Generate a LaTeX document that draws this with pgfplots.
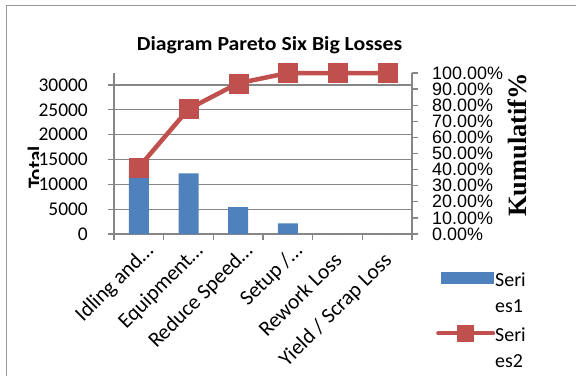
\documentclass[border=0pt]{standalone}
\usepackage{pgfplots}
\pgfplotsset{compat=1.18}
\usepackage{fontspec}
\setmainfont{Carlito}
\newfontfamily\titlefont{Carlito}[FakeStretch=1.09]
\newfontfamily\libsans{Liberation Sans}
\newfontfamily\libserif{Liberation Serif}
\definecolor{barblue}{HTML}{4F81BD}
\definecolor{linered}{HTML}{C0504D}
\definecolor{axgray}{HTML}{868686}
\begin{document}
\begin{tikzpicture}[x=1bp,y=1bp]
\useasboundingbox (-114,-142) rectangle (462,234);
\draw[axgray!85, line width=1.6bp] (-107.5,-142) -- (-107.5,228.5) -- (462,228.5);
\begin{scope}
\clip (-120,30) rectangle (-75,110);
\node[rotate=90, inner sep=0pt, font=\bfseries\fontsize{21}{25}\selectfont] at (-79,66.5) {Total};
\end{scope}
\begin{axis}[
  at={(0,0)}, anchor=south west,
  scale only axis, width=298bp, height=161bp,
  xmin=-0.5, xmax=5.5, ymin=0, ymax=32400,
  axis x line*=bottom, axis y line*=left,
  axis line style={-, axgray, line width=1.3bp},
  ytick={0,5000,10000,15000,20000,25000,30000},
  ymajorgrids, grid style={axgray, line width=1.3bp},
  tick align=outside, major tick length=6bp,
  tick style={axgray, line width=1.3bp},
  xtick={-0.5,0.5,1.5,2.5,3.5,4.5,5.5}, xticklabels={},
  extra x ticks={0,1,2,3,4,5},
  extra x tick labels={Idling and…,Equipment…,Reduce Speed…,Setup /…,Rework Loss\kern14bp,Yield / Scrap Loss\kern14bp},
  extra x tick style={major tick length=0pt, grid=none,
    xticklabel style={xshift=5bp, yshift=-7bp, rotate=45, anchor=north east, inner sep=0pt,
      font=\fontsize{21.5}{24}\selectfont}},
  scaled y ticks=false,
  yticklabel style={font=\fontsize{19.5}{20}\selectfont, anchor=east, inner sep=0pt, xshift=-20bp,
    /pgf/number format/1000 sep={}, /pgf/number format/assume math mode=true},
  title={Diagram Pareto Six Big Losses},
  title style={at={(rel axis cs:0.522,1.134)}, anchor=center, inner sep=0pt,
    font=\titlefont\bfseries\fontsize{20}{24}\selectfont},
]
\addplot[ybar, fill=barblue, draw=none, bar width=20bp] coordinates {(0,14000) (1,12220) (2,5400) (3,2150) (4,0) (5,0)};
\end{axis}
\begin{axis}[
  at={(0,0)}, anchor=south west,
  scale only axis, width=298bp, height=161bp,
  xmin=-0.5, xmax=5.5, ymin=0, ymax=1,
  axis x line=none, axis y line*=right,
  axis line style={-, axgray, line width=1.3bp},
  ytick={0,0.1,0.2,0.3,0.4,0.5,0.6,0.7,0.8,0.9,1},
  yticklabels={0.00\%,10.00\%,20.00\%,30.00\%,40.00\%,50.00\%,60.00\%,70.00\%,80.00\%,90.00\%,100.00\%},
  tick align=outside, major tick length=6bp,
  tick style={axgray, line width=1.3bp},
  yticklabel style={font=\libsans\fontsize{18}{18}\selectfont, anchor=west, inner sep=0pt, xshift=14bp},
  ylabel={Kumulatif\%},
  every axis y label/.style={at={(rel axis cs:1.352,0.553)}, rotate=90, anchor=center, inner sep=0pt,
    font=\libserif\bfseries\fontsize{26.5}{30}\selectfont},
  clip=false,
  legend style={at={(rel axis cs:1.0805,-0.21)}, anchor=north west, draw=none, fill=none,
    inner sep=0pt, row sep=36bp, font=\fontsize{20}{26}\selectfont,
    nodes={inner sep=0pt}},
  legend cell align=left,
]
\addlegendimage{legend image code/.code={\fill[barblue] (3bp,-5.5bp) rectangle (55bp,5.5bp);}}
\addlegendentry{\begin{tabular}[t]{@{}l@{}}Seri\\es1\end{tabular}}
\addplot[linered, line width=4.5bp, mark=square*, mark size=9.5bp, mark options={fill=linered, draw=linered, line width=0.1bp},
  legend image code/.code={\draw[linered, line width=4bp, line cap=round] (0bp,0bp) -- (55bp,0bp);
    \fill[linered] (21.5bp,-6bp) rectangle (33.5bp,6bp);}]
  coordinates {(0,0.4146) (1,0.7764) (2,0.9363) (3,1) (4,1) (5,1)};
\addlegendentry{\begin{tabular}[t]{@{}l@{}}Seri\\es2\end{tabular}}
\end{axis}
\end{tikzpicture}
\end{document}
